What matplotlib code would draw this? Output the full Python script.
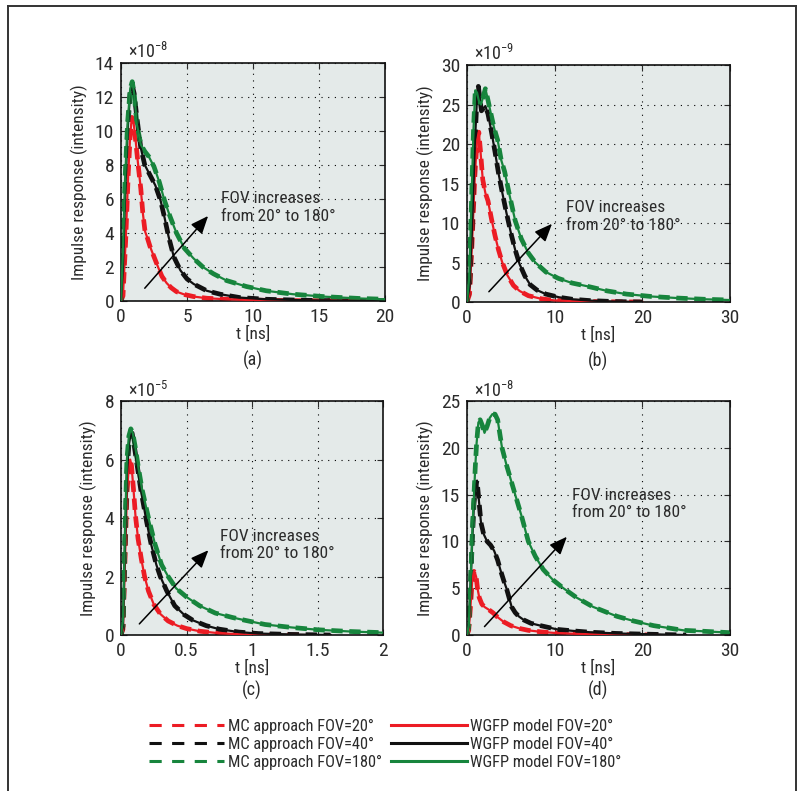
"""Impulse response vs FOV: MC approach vs WGFP model (four scenarios)."""
import matplotlib as mpl
mpl.use("Agg")
import matplotlib.pyplot as plt
import matplotlib.font_manager as fm
from matplotlib.lines import Line2D
from matplotlib.ticker import FuncFormatter

COLORS = {20: "#EC1C24", 40: "#111111", 180: "#17853D"}
TEXT = "#2B2B2B"
AXBG = "#E4EAE9"

FOVS = [20, 40, 180]

# ---- values, in units of each panel's multiplier ----
# (a)  x1e-8, t in ns
A_T20 = [0, 0.15, 0.35, 0.55, 0.7, 0.82, 0.95, 1.1, 1.3, 1.5, 1.65, 1.82, 2.0, 2.2, 2.5, 2.83, 3.1, 3.46, 3.8, 4.2, 4.8, 5.5, 6.5, 8, 10, 13, 16, 20]
A_V20 = [0, 0.3, 3.5, 7.5, 9.8, 10.8, 10.5, 9.5, 8.0, 6.6, 5.2, 4.1, 3.7, 3.2, 2.6, 1.95, 1.45, 1.05, 0.78, 0.55, 0.38, 0.26, 0.16, 0.1, 0.05, 0.02, 0.01, 0]
A_T40 = [0, 0.15, 0.3, 0.5, 0.7, 0.85, 1.0, 1.2, 1.5, 1.8, 2.2, 2.6, 3.0, 3.3, 3.6, 4.0, 4.5, 5.0, 5.5, 6.5, 7.5, 9, 11, 14, 17, 20]
A_V40 = [0, 2.0, 6.0, 10.0, 12.3, 12.7, 12.2, 10.8, 9.0, 8.0, 7.4, 6.8, 5.9, 4.9, 3.8, 2.6, 1.8, 1.3, 1.0, 0.6, 0.4, 0.2, 0.1, 0.04, 0.01, 0]
A_T180 = [0, 0.15, 0.3, 0.5, 0.7, 0.85, 1.0, 1.2, 1.5, 1.8, 2.1, 2.5, 2.9, 3.3, 3.7, 4.2, 4.8, 5.5, 6.2, 7.0, 8.0, 9.5, 11, 13, 15.5, 18, 20]
A_V180 = [0, 3.0, 7.0, 10.5, 12.5, 12.9, 12.2, 10.4, 9.2, 8.8, 8.5, 7.9, 7.0, 5.9, 5.0, 4.0, 3.1, 2.5, 2.0, 1.6, 1.2, 0.85, 0.6, 0.4, 0.25, 0.15, 0.1]

# (b)  x1e-9, t in ns
B_T20 = [0, 0.3, 0.6, 0.9, 1.15, 1.35, 1.55, 1.8, 2.1, 2.4, 2.8, 3.2, 3.6, 4.0, 4.6, 5.3, 6.0, 7.0, 8.5, 10, 13, 16, 20]
B_V20 = [0, 1.0, 8.0, 16.0, 20.5, 21.5, 19.0, 15.5, 13.8, 12.8, 10.5, 8.4, 6.6, 5.1, 3.4, 2.1, 1.4, 0.8, 0.4, 0.2, 0.08, 0.03, 0]
B_T40 = [0, 0.3, 0.6, 0.9, 1.15, 1.3, 1.45, 1.65, 1.85, 2.1, 2.4, 2.8, 3.2, 3.6, 4.0, 4.5, 5.0, 5.5, 6.0, 6.6, 7.2, 8.0, 9.0, 10.5, 12, 14, 17, 20]
B_V40 = [0, 2.0, 10.0, 20.0, 26.0, 27.3, 26.0, 24.2, 24.5, 24.8, 23.8, 21.5, 19.0, 16.3, 14.0, 11.3, 8.8, 6.6, 4.8, 3.3, 2.2, 1.5, 1.0, 0.6, 0.35, 0.18, 0.05, 0]
B_T180 = [0, 0.25, 0.5, 0.75, 0.95, 1.15, 1.35, 1.6, 1.85, 2.1, 2.35, 2.7, 3.1, 3.5, 3.9, 4.3, 4.8, 5.5, 6.2, 7.0, 7.8, 9.0, 10.4, 12, 13.7, 16, 18.2, 21, 24, 27, 30]
B_V180 = [0, 3.0, 12.0, 22.0, 26.8, 26.5, 25.5, 25.0, 26.0, 27.0, 25.8, 24.0, 22.0, 20.5, 18.0, 16.5, 13.8, 10.3, 8.0, 6.2, 5.0, 3.8, 3.0, 2.4, 2.0, 1.4, 1.0, 0.7, 0.5, 0.35, 0.25]

# (c)  x1e-5, t in ns
C_T20 = [0, 0.015, 0.03, 0.045, 0.06, 0.07, 0.08, 0.095, 0.11, 0.13, 0.155, 0.18, 0.21, 0.25, 0.3, 0.36, 0.43, 0.5, 0.6, 0.75, 0.9, 1.1, 1.4]
C_V20 = [0, 0.2, 2.5, 4.8, 5.8, 6.0, 5.8, 5.0, 4.1, 3.3, 2.6, 2.0, 1.5, 1.05, 0.72, 0.48, 0.32, 0.22, 0.13, 0.06, 0.03, 0.01, 0]
C_T40 = [0, 0.015, 0.03, 0.045, 0.06, 0.075, 0.085, 0.1, 0.12, 0.15, 0.19, 0.23, 0.27, 0.3, 0.35, 0.41, 0.48, 0.55, 0.65, 0.75, 0.9, 1.05, 1.3, 1.6]
C_V40 = [0, 0.3, 3.0, 5.5, 6.5, 6.9, 6.9, 6.5, 5.9, 5.0, 4.0, 3.1, 2.4, 2.0, 1.5, 1.0, 0.7, 0.5, 0.32, 0.2, 0.1, 0.05, 0.02, 0]
C_T180 = [0, 0.015, 0.03, 0.045, 0.06, 0.075, 0.09, 0.11, 0.13, 0.16, 0.21, 0.26, 0.31, 0.36, 0.42, 0.5, 0.6, 0.72, 0.85, 0.95, 1.1, 1.3, 1.5, 1.75, 2.0]
C_V180 = [0, 0.5, 3.5, 6.0, 6.8, 7.05, 6.9, 6.4, 5.8, 5.0, 4.0, 3.1, 2.4, 2.0, 1.6, 1.3, 1.0, 0.75, 0.6, 0.5, 0.36, 0.26, 0.18, 0.12, 0.08]

# (d)  x1e-8, t in ns
D_T20 = [0, 0.2, 0.4, 0.6, 0.8, 0.9, 1.05, 1.2, 1.4, 1.7, 2.0, 2.5, 3.0, 3.5, 4.2, 5.0, 6.0, 7.0, 8.5, 10, 12.5, 15, 18, 22]
D_V20 = [0, 0.5, 3.0, 5.8, 6.8, 6.7, 6.2, 5.0, 4.0, 3.3, 3.0, 2.7, 2.35, 1.9, 1.4, 1.0, 0.7, 0.5, 0.33, 0.22, 0.13, 0.08, 0.04, 0]
D_T40 = [0, 0.2, 0.4, 0.6, 0.8, 1.0, 1.15, 1.35, 1.6, 1.9, 2.3, 2.7, 3.1, 3.5, 3.8, 4.2, 4.5, 4.8, 5.1, 5.5, 5.9, 6.5, 7.3, 8.4, 10.3, 12, 14, 17, 20, 25]
D_V40 = [0, 1.0, 5.0, 10.0, 14.0, 16.0, 16.5, 14.5, 12.0, 10.8, 10.0, 9.6, 9.0, 8.0, 7.0, 5.8, 5.0, 4.0, 3.0, 2.4, 2.0, 1.6, 1.25, 1.0, 0.6, 0.45, 0.3, 0.17, 0.1, 0]
D_T180 = [0, 0.2, 0.35, 0.5, 0.65, 0.8, 0.95, 1.1, 1.3, 1.5, 1.75, 2.0, 2.3, 2.6, 2.9, 3.2, 3.5, 4.0, 4.5, 5.0, 5.5, 6.2, 7.0, 7.8, 8.7, 9.8, 11, 12.5, 14.4, 17.1, 19, 21.3, 23, 24.7, 27, 30]
D_V180 = [0, 1.0, 4.5, 8.0, 12.0, 15.0, 18.0, 20.5, 22.7, 23.0, 22.4, 21.6, 22.3, 23.2, 23.6, 23.6, 23.0, 20.0, 18.2, 16.6, 15.0, 12.8, 10.0, 8.4, 7.0, 5.9, 5.0, 4.0, 3.0, 2.0, 1.5, 1.0, 0.75, 0.5, 0.4, 0.25]


def pick_font():
    preferred = ["Liberation Sans Narrow", "Roboto Condensed", "Open Sans Condensed",
                 "Noto Sans Display", "Liberation Sans", "DejaVu Sans"]
    available = {f.name for f in fm.fontManager.ttflist}
    return next((f for f in preferred if f in available), "DejaVu Sans")


FONT = pick_font()
mpl.rcParams.update({
    "font.family": [FONT, "DejaVu Sans"],
    "font.size": 12,
    "mathtext.fontset": "custom",
    "mathtext.rm": FONT,
    "mathtext.it": FONT,
    "text.color": TEXT,
    "axes.labelcolor": TEXT,
    "xtick.color": TEXT,
    "ytick.color": TEXT,
})

PANELS = [
    dict(tag="(a)", rect=[0.1505, 0.6195, 0.3284, 0.3009], xlim=(0, 20), xt=[0, 5, 10, 15, 20],
         ylim=(0, 14), yt=[0, 2, 4, 6, 8, 10, 12, 14], exp="-8",
         data={20: (A_T20, A_V20), 40: (A_T40, A_V40), 180: (A_T180, A_V180)},
         arrow=((1.8, 0.75), (6.6, 5.0)), note=(7.6, 5.5), cap=-0.25),
    dict(tag="(b)", rect=[0.5808, 0.6182, 0.3271, 0.2996], xlim=(0, 30), xt=[0, 10, 20, 30],
         ylim=(0, 30), yt=[0, 5, 10, 15, 20, 25, 30], exp="-9",
         data={20: (B_T20, B_V20), 40: (B_T40, B_V40), 180: (B_T180, B_V180)},
         arrow=((2.5, 1.3), (9.7, 9.9)), note=(11.3, 10.8), cap=-0.25),
    dict(tag="(c)", rect=[0.1505, 0.1972, 0.3259, 0.2958], xlim=(0, 2), xt=[0, 0.5, 1, 1.5, 2],
         ylim=(0, 8), yt=[0, 2, 4, 6, 8], exp="-5",
         data={20: (C_T20, C_V20), 40: (C_T40, C_V40), 180: (C_T180, C_V180)},
         arrow=((0.14, 0.38), (0.667, 2.9)), note=(0.757, 3.07), cap=-0.237),
    dict(tag="(d)", rect=[0.5808, 0.1972, 0.3271, 0.2958], xlim=(0, 30), xt=[0, 10, 20, 30],
         ylim=(0, 25), yt=[0, 5, 10, 15, 20, 25], exp="-8",
         data={20: (D_T20, D_V20), 40: (D_T40, D_V40), 180: (D_T180, D_V180)},
         arrow=((2.0, 0.9), (11.4, 10.5)), note=(12.0, 14.0), cap=-0.237),
]

fig = plt.figure(figsize=(8.04, 7.91), dpi=100)

for p in PANELS:
    ax = fig.add_axes(p["rect"])
    ax.set_facecolor(AXBG)
    for fov in FOVS:
        t, v = p["data"][fov]
        ax.plot(t, v, color=COLORS[fov], lw=3.4, linestyle=(0, (2.4, 1.4)), zorder=2)
        ax.plot(t, v, color=COLORS[fov], lw=1.6, zorder=3)
    ax.set_xlim(*p["xlim"])
    ax.set_ylim(*p["ylim"])
    ax.set_xticks(p["xt"])
    ax.set_yticks(p["yt"])
    ax.xaxis.set_major_formatter(FuncFormatter(lambda x, _: f"{x:g}"))
    ax.grid(True, color="black", linestyle=(0, (1, 5)), lw=0.8)
    ax.tick_params(direction="in", top=True, right=True, length=4, width=0.8,
                   labelsize=14, pad=5)
    for s in ax.spines.values():
        s.set_linewidth(1.2)
        s.set_color("#111111")
    ax.set_xlabel("t [ns]", fontsize=12.5, labelpad=0)
    ax.set_ylabel("Impulse response (intensity)", fontsize=12.5, labelpad=5)
    ax.text(0.025, 1.045, rf"$\times10^{{{p['exp'].replace('-', '−')}}}$", transform=ax.transAxes,
            fontsize=13, ha="left", va="center")
    ax.text(0.5, p["cap"], p["tag"], transform=ax.transAxes, fontsize=13,
            ha="center", va="center")
    ax.annotate("", xy=p["arrow"][1], xytext=p["arrow"][0],
                arrowprops=dict(arrowstyle="-|>,head_length=0.6,head_width=0.25",
                                color="black", lw=1.1, mutation_scale=18, shrinkA=0, shrinkB=0),
                zorder=5)
    ax.text(p["note"][0], p["note"][1], "FOV increases\nfrom 20° to 180°", fontsize=12.5,
            ha="left", va="center", linespacing=1.2, zorder=5)

handles = []
for fov in FOVS:
    handles.append(Line2D([], [], color=COLORS[fov], lw=2.2, linestyle=(0, (4, 3.4)),
                          label=f"MC approach FOV={fov}°"))
for fov in FOVS:
    handles.append(Line2D([], [], color=COLORS[fov], lw=2.2,
                          label=f"WGFP model FOV={fov}°"))
fig.legend(handles=handles, ncol=2, loc="upper center", bbox_to_anchor=(0.479, 0.102),
           frameon=False, fontsize=11.8, handlelength=4.6, handletextpad=0.2,
           columnspacing=0.6, labelspacing=0.2, borderpad=0)

# outer frame (open at the bottom)
for xs, ys in (([8 / 804, 8 / 804], [0, 1 - 6 / 791]),
               ([8 / 804, 796 / 804], [1 - 6 / 791, 1 - 6 / 791]),
               ([796 / 804, 796 / 804], [1 - 6 / 791, 0])):
    fig.add_artist(Line2D(xs, ys, color="#333333", lw=1.4, transform=fig.transFigure))

fig.savefig("out.png", dpi=100)
